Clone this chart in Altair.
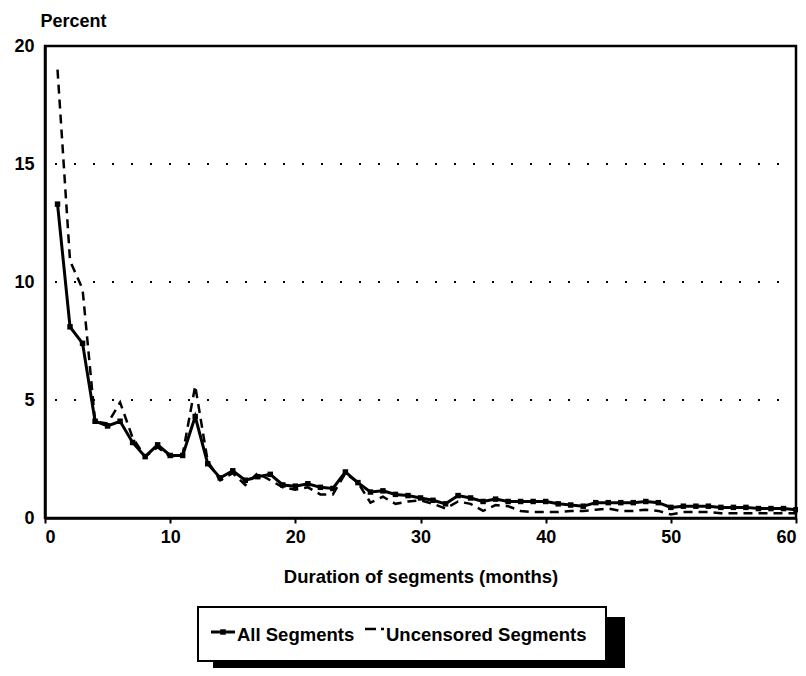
import altair as alt
import pandas as pd

# ---- data ----
months = list(range(1, 61))
all_segments = [13.3, 8.1, 7.4, 4.1, 3.9, 4.1, 3.2, 2.6, 3.1, 2.65,
                2.65, 4.3, 2.3, 1.7, 2.0, 1.6, 1.75, 1.85, 1.4, 1.35,
                1.45, 1.3, 1.25, 1.95, 1.5, 1.1, 1.15, 1.0, 0.95, 0.85,
                0.75, 0.6, 0.95, 0.85, 0.7, 0.8, 0.7, 0.7, 0.7, 0.7,
                0.6, 0.55, 0.5, 0.65, 0.65, 0.65, 0.65, 0.7, 0.65, 0.45,
                0.5, 0.5, 0.5, 0.45, 0.45, 0.45, 0.4, 0.4, 0.4, 0.35]
uncensored = [19.0, 10.9, 9.7, 4.1, 4.0, 4.9, 3.4, 2.6, 3.0, 2.6,
              2.7, 5.6, 2.4, 1.6, 1.9, 1.4, 1.9, 1.6, 1.3, 1.2,
              1.3, 1.0, 1.0, 1.9, 1.5, 0.65, 0.9, 0.6, 0.7, 0.75,
              0.6, 0.4, 0.7, 0.6, 0.3, 0.55, 0.5, 0.3, 0.25, 0.25,
              0.25, 0.3, 0.3, 0.35, 0.4, 0.3, 0.3, 0.35, 0.3, 0.15,
              0.25, 0.25, 0.25, 0.2, 0.2, 0.2, 0.2, 0.2, 0.2, 0.2]
series_names = ["All Segments", "Uncensored Segments"]
grid_levels = [5, 10, 15]
x_ticks = [0, 10, 20, 30, 40, 50, 60]
y_ticks = [0, 5, 10, 15, 20]

FONT = "Liberation Sans"
W, H = 751, 472

df_all = pd.DataFrame({"month": months, "percent": all_segments})
df_unc = pd.DataFrame({"month": months, "percent": uncensored})

xs = alt.Scale(domain=[0, 60], nice=False)
ys = alt.Scale(domain=[0, 20], nice=False)

x_axis = alt.Axis(values=x_ticks, grid=False, labelFont=FONT, labelFontSize=18,
                  labelFontWeight="bold", labelColor="black", labelPadding=5,
                  tickSize=5, tickWidth=2, tickColor="black",
                  domainColor="black", domainWidth=2.5,
                  title="Duration of segments (months)", titleFont=FONT,
                  titleFontSize=18.5, titleFontWeight="bold", titleColor="black",
                  titleY=58, titleBaseline="middle")
y_axis = alt.Axis(values=y_ticks, grid=False, labelFont=FONT, labelFontSize=18,
                  labelFontWeight="bold", labelColor="black", labelPadding=11,
                  tickSize=0, domainColor="black", domainWidth=2.5,
                  title="Percent", titleFont=FONT, titleFontSize=18,
                  titleFontWeight="bold", titleColor="black", titleAngle=0,
                  titleAlign="left", titleBaseline="middle", titleX=-5, titleY=-25)

grid = alt.Chart(pd.DataFrame({"y": grid_levels})).mark_rule(
    color="black", strokeDash=[2, 17], strokeWidth=2
).encode(y=alt.Y("y:Q", scale=ys), x=alt.value(10), x2=alt.value(W))

dashed = alt.Chart(df_unc).mark_line(
    color="black", strokeWidth=2.5, strokeDash=[9, 6]
).encode(x=alt.X("month:Q", scale=xs, axis=x_axis),
         y=alt.Y("percent:Q", scale=ys, axis=y_axis))

solid = alt.Chart(df_all).mark_line(color="black", strokeWidth=3).encode(
    x=alt.X("month:Q", scale=xs), y=alt.Y("percent:Q", scale=ys))

points = alt.Chart(df_all).mark_square(color="black", size=30, opacity=1).encode(
    x=alt.X("month:Q", scale=xs), y=alt.Y("percent:Q", scale=ys))

one = pd.DataFrame({"a": [0]})
shadow = alt.Chart(one).mark_rect(color="black").encode(
    x=alt.value(168), x2=alt.value(580), y=alt.value(571), y2=alt.value(630))
box = alt.Chart(one).mark_rect(fill="white", stroke="black", strokeWidth=2).encode(
    x=alt.value(153), x2=alt.value(561), y=alt.value(561), y2=alt.value(615))
sym_solid = alt.Chart(one).mark_rule(color="black", strokeWidth=3).encode(
    x=alt.value(166), x2=alt.value(190), y=alt.value(586))
sym_point = alt.Chart(one).mark_square(color="black", size=30, opacity=1).encode(
    x=alt.value(178), y=alt.value(586))
sym_dash = alt.Chart(one).mark_rule(color="black", strokeWidth=2.5, strokeDash=[11, 5]).encode(
    x=alt.value(320), x2=alt.value(339), y=alt.value(583))
txt1 = alt.Chart(one).mark_text(align="left", baseline="middle", font=FONT,
                                fontSize=18.5, fontWeight="bold", color="black").encode(
    x=alt.value(192), y=alt.value(589), text=alt.value(series_names[0]))
txt2 = alt.Chart(one).mark_text(align="left", baseline="middle", font=FONT,
                                fontSize=18.5, fontWeight="bold", color="black").encode(
    x=alt.value(341), y=alt.value(589), text=alt.value(series_names[1]))

chart = alt.layer(grid, dashed, solid, points, shadow, box, sym_solid, sym_point,
                  sym_dash, txt1, txt2).properties(
    width=W, height=H,
    padding={"left": 37, "top": 38, "right": 2, "bottom": 150},
    autosize=alt.AutoSizeParams(type="none"),
).configure_view(stroke="black", strokeWidth=2.5)

chart.save("out.html", embed_options={"renderer": "svg", "actions": False})
